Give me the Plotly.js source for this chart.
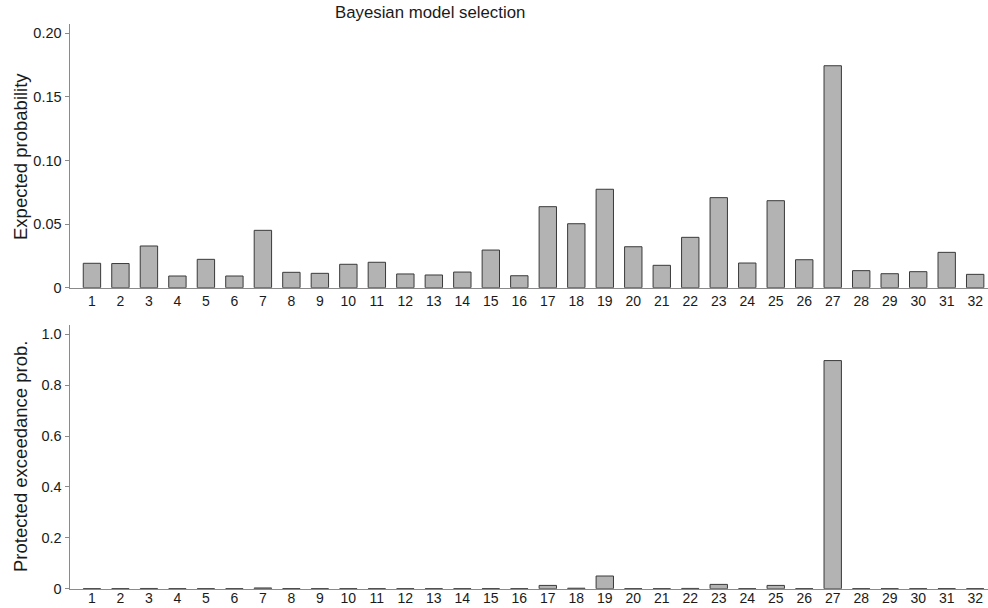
<!DOCTYPE html>
<html>
<head>
<meta charset="utf-8">
<script src="https://cdn.plot.ly/plotly-3.0.1.min.js"></script>
<style>html,body{margin:0;padding:0;background:#fff;}#chart{width:988px;height:608px;}</style>
</head>
<body>
<div id="chart"></div>
<script>
const models = [1,2,3,4,5,6,7,8,9,10,11,12,13,14,15,16,17,18,19,20,21,22,23,24,25,26,27,28,29,30,31,32];
const expectedProb = [0.0192,0.019,0.0328,0.0092,0.0223,0.0092,0.0451,0.0121,0.0113,0.0184,
  0.020,0.0108,0.0100,0.0123,0.0296,0.0094,0.0637,0.0503,0.0774,0.0322,
  0.0176,0.0396,0.0708,0.0194,0.0684,0.022,0.1745,0.0134,0.011,0.0126,0.0278,0.0105];
const protectedExceed = [0.0005,0.0005,0.001,0.0005,0.0005,0.0005,0.003,0.0008,0.0005,0.0005,
  0.0005,0.0005,0.0005,0.0005,0.0007,0.0005,0.013,0.002,0.050,0.0005,
  0.0005,0.0012,0.017,0.0005,0.013,0.0005,0.897,0.0005,0.0005,0.0005,0.0008,0.0005];
const topTickVals = [0,0.05,0.10,0.15,0.20];
const topTickText = ['0','0.05','0.10','0.15','0.20'];
const botTickVals = [0,0.2,0.4,0.6,0.8,1.0];
const botTickText = ['0','0.2','0.4','0.6','0.8','1.0'];
const titleText = 'Bayesian model selection';
const yTitleTop = 'Expected probability';
const yTitleBot = 'Protected exceedance prob.';

const barStyle = {color:'#b3b3b3', line:{color:'#3a3a3a', width:1}};
const FONT = '"Liberation Sans", Arial, Helvetica, sans-serif';

const traces = [
  {type:'bar', x:models, y:expectedProb, xaxis:'x', yaxis:'y', marker:barStyle, hoverinfo:'x+y'},
  {type:'bar', x:models, y:protectedExceed, xaxis:'x2', yaxis:'y2', marker:barStyle, hoverinfo:'x+y'}
];

const xCommon = {
  range:[0.23,32.45], tickmode:'array', tickvals:models, ticktext:models.map(String),
  showgrid:false, zeroline:false, showline:true, linecolor:'#8a8a8a', linewidth:1.5,
  ticks:'', tickfont:{size:14, color:'#1a1a1a', family:FONT}, automargin:false, fixedrange:true
};
const yCommon = {
  showgrid:false, zeroline:false, showline:true, linecolor:'#8a8a8a', linewidth:1.5,
  ticks:'outside', ticklen:4, tickwidth:1, tickcolor:'#8a8a8a',
  tickfont:{size:14.5, color:'#1a1a1a', family:FONT}, automargin:false, fixedrange:true
};

const layout = {
  width:988, height:608,
  margin:{l:70, r:0, t:0, b:0},
  paper_bgcolor:'#fff', plot_bgcolor:'#fff',
  showlegend:false, bargap:0.39,
  font:{family:FONT, color:'#1a1a1a'},
  xaxis:Object.assign({}, xCommon, {anchor:'y'}),
  xaxis2:Object.assign({}, xCommon, {anchor:'y2', ticklabelstandoff:-4}),
  yaxis:Object.assign({}, yCommon, {domain:[0.5268,0.9605], range:[0,0.2073], tickvals:topTickVals, ticktext:topTickText, anchor:'x'}),
  yaxis2:Object.assign({}, yCommon, {domain:[0.0317,0.4655], range:[0,1.037], tickvals:botTickVals, ticktext:botTickText, anchor:'x2'}),
  annotations:[
    {text:titleText, xref:'paper', yref:'paper', x:(430-70)/918, y:(608-12)/608, showarrow:false,
     xanchor:'center', yanchor:'middle', font:{size:16.8, family:FONT, color:'#1a1a1a'}},
    {text:yTitleTop, xref:'paper', yref:'paper', x:(20-70)/918, y:(608-157)/608, showarrow:false,
     textangle:-90, xanchor:'center', yanchor:'middle', font:{size:18.5, family:FONT, color:'#1a1a1a'}},
    {text:yTitleBot, xref:'paper', yref:'paper', x:(20-70)/918, y:(608-457)/608, showarrow:false,
     textangle:-90, xanchor:'center', yanchor:'middle', font:{size:18.5, family:FONT, color:'#1a1a1a'}}
  ]
};

Plotly.newPlot('chart', traces, layout, {displayModeBar:false, staticPlot:true});
</script>
</body>
</html>
